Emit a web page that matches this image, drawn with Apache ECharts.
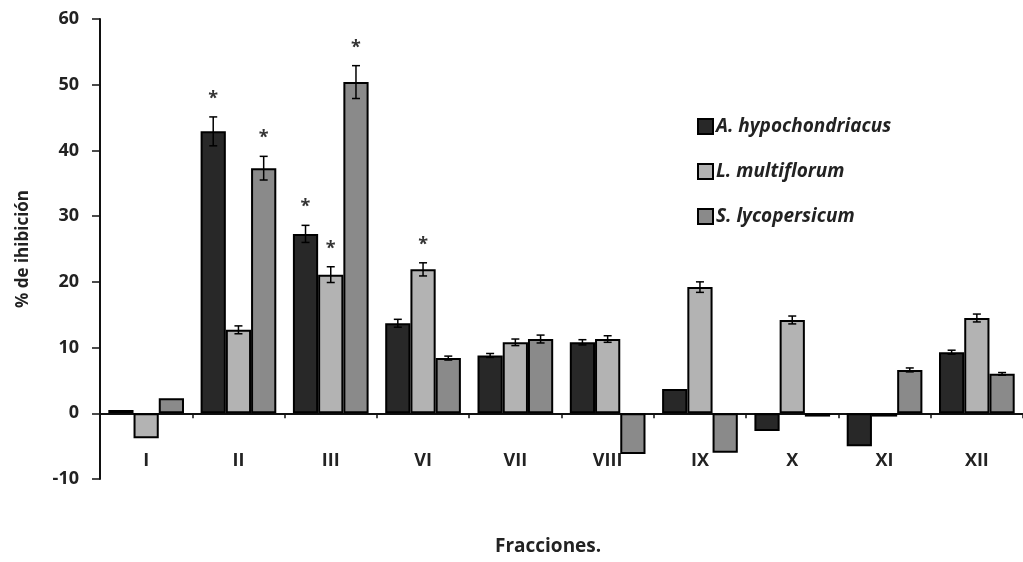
<!DOCTYPE html>
<html><head><meta charset="utf-8">
<script src="https://cdn.jsdelivr.net/npm/echarts@6/dist/echarts.min.js"></script>
<style>html,body{margin:0;padding:0;background:#fff}#c{width:1023px;height:562px}</style>
</head><body><div id="c"></div>
<script>
const categories = ['I','II','III','VI','VII','VIII','IX','X','XI','XII'];
const seriesNames = ['A. hypochondriacus','L. multiflorum','S. lycopersicum'];
const ahypo  = [0.5, 42.9, 27.3, 13.7, 8.8, 10.8, 3.7, -2.7, -5.0, 9.3];
const lmulti = [-3.8, 12.7, 21.1, 21.9, 10.8, 11.3, 19.2, 14.2, -0.5, 14.5];
const slyco  = [2.3, 37.3, 50.4, 8.4, 11.3, -6.2, -6.0, -0.5, 6.6, 6.0];
const ahypoErr  = [0, 2.2, 1.3, 0.6, 0.3, 0.4, 0, 0, 0, 0.3];
const lmultiErr = [0, 0.6, 1.2, 1.0, 0.5, 0.5, 0.8, 0.6, 0, 0.6];
const slycoErr  = [0, 1.8, 2.5, 0.3, 0.6, 0, 0, 0, 0.3, 0.2];
const ahypoSig  = [0, 1, 1, 0, 0, 0, 0, 0, 0, 0];
const lmultiSig = [0, 0, 1, 1, 0, 0, 0, 0, 0, 0];
const slycoSig  = [0, 1, 1, 0, 0, 0, 0, 0, 0, 0];
const yTicks = [-10, 0, 10, 20, 30, 40, 50, 60];

const colors = ['#282828', '#b3b3b3', '#8a8a8a'];
const values = [ahypo, lmulti, slyco];
const errs = [ahypoErr, lmultiErr, slycoErr];
const sigs = [ahypoSig, lmultiSig, slycoSig];
const GAP = 0.18;
const FONT = '"Open Sans", sans-serif';

const chart = echarts.init(document.getElementById('c'));

function errRenderer(s) {
  return function (params, api) {
    const x = api.value(0), v = api.value(1), e = api.value(2), sig = api.value(3);
    const catW = api.size([1, 0])[0];
    const bw = catW * (1 - GAP) / 3;
    const base = api.coord([x, v]);
    const cx = base[0] + (s - 1) * bw;
    const children = [];
    let topY = base[1];
    if (e > 0) {
      const y1 = api.coord([x, v + e])[1];
      const y2 = api.coord([x, v - e])[1];
      topY = Math.min(y1, y2);
      const st = { stroke: '#000', lineWidth: 1.5 };
      children.push({ type: 'line', shape: { x1: cx, y1: y1, x2: cx, y2: y2 }, style: st });
      children.push({ type: 'line', shape: { x1: cx - 4, y1: y1, x2: cx + 4, y2: y1 }, style: st });
      children.push({ type: 'line', shape: { x1: cx - 4, y1: y2, x2: cx + 4, y2: y2 }, style: st });
    }
    if (sig) {
      children.push({ type: 'text', style: { x: cx, y: topY - 9, text: '*', textAlign: 'center', textVerticalAlign: 'bottom', font: 'bold 18px ' + FONT, fill: '#333' } });
    }
    return { type: 'group', children: children };
  };
}

const series = [];
for (let s = 0; s < 3; s++) {
  series.push({
    name: seriesNames[s], type: 'bar', data: values[s],
    barGap: '0%', barCategoryGap: (GAP * 100) + '%',
    itemStyle: { color: colors[s], borderColor: '#000', borderWidth: 2 },
    emphasis: { disabled: true }
  });
}
for (let s = 0; s < 3; s++) {
  series.push({
    name: 'err' + s, type: 'custom', renderItem: errRenderer(s),
    data: categories.map((c, i) => [i, values[s][i], errs[s][i], sigs[s][i]]),
    encode: { x: 0, y: 1 }, z: 5, silent: true
  });
}

chart.setOption({
  animation: false,
  backgroundColor: '#fff',
  grid: { left: 100, top: 19, width: 930, height: 460, containLabel: false },
  legend: {
    data: seriesNames.map(n => ({ name: n, icon: 'rect' })),
    orient: 'vertical', left: 692, top: 112, itemGap: 26, itemWidth: 15, itemHeight: 15,
    textStyle: { fontFamily: FONT, fontStyle: 'italic', fontWeight: 'bold', fontSize: 19, color: '#222', padding: [0, 0, 0, -2] },
    selectedMode: false
  },
  xAxis: [
    { type: 'category', data: categories, axisLine: { onZero: true, lineStyle: { color: '#111', width: 2 } },
      axisTick: { show: true, length: 5, lineStyle: { color: '#111', width: 1.5 } }, axisLabel: { show: false } },
    { type: 'category', data: categories, position: 'bottom', axisLine: { show: false }, axisTick: { show: false },
      axisLabel: { margin: -27, fontFamily: FONT, fontWeight: 'bold', fontSize: 18, color: '#222' } }
  ],
  yAxis: {
    type: 'value', min: -10, max: 60, interval: 10,
    axisLine: { show: true, lineStyle: { color: '#111', width: 2 } },
    axisTick: { show: true, length: 8, lineStyle: { color: '#111', width: 1.5 } },
    splitLine: { show: false },
    axisLabel: { margin: 21, fontFamily: FONT, fontWeight: 'bold', fontSize: 18, color: '#222' },
    name: '% de ihibición', nameLocation: 'middle', nameGap: 68,
    nameTextStyle: { fontFamily: FONT, fontWeight: 'bold', fontSize: 17, color: '#222' }
  },
  graphic: [{ type: 'text', left: 495, top: 537, style: { text: 'Fracciones.', font: 'bold 19px ' + FONT, fill: '#222' } }],
  series: series
});
</script></body></html>
